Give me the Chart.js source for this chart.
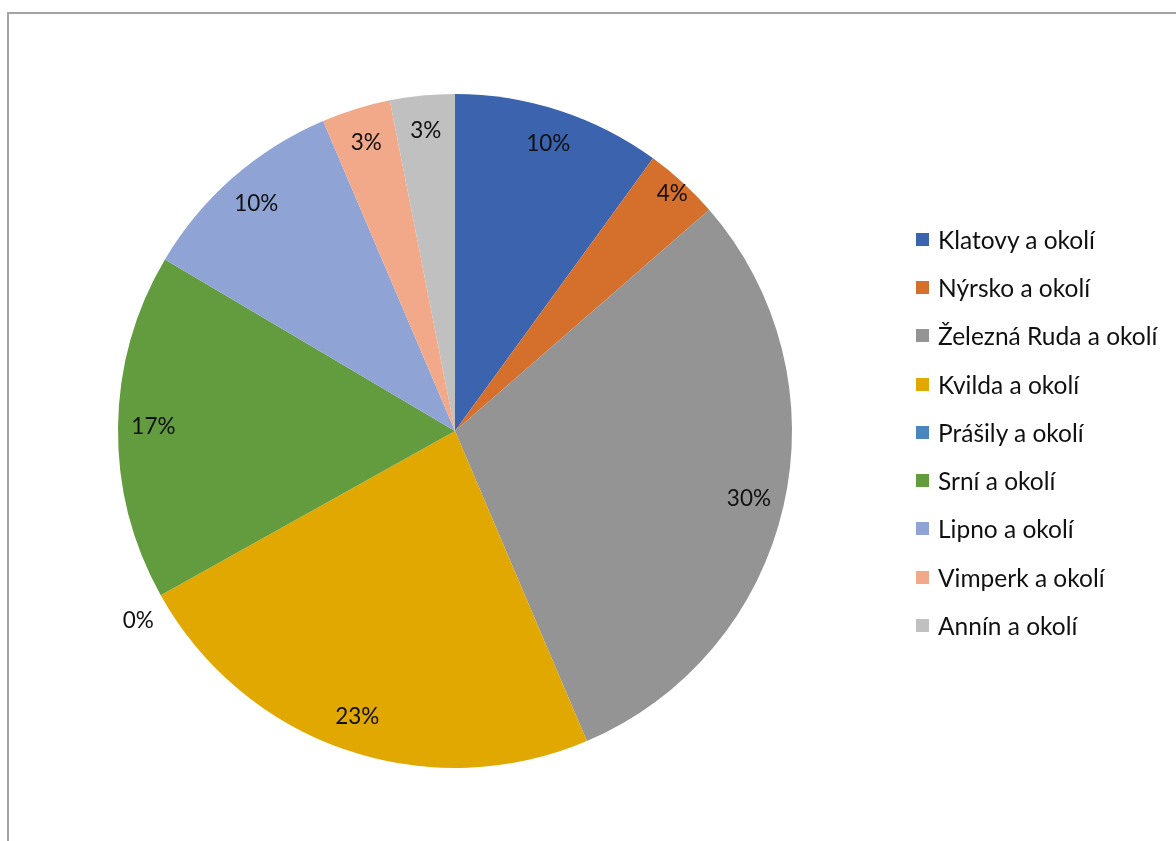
<!DOCTYPE html>
<html>
<head>
<meta charset="utf-8">
<script src="https://cdn.jsdelivr.net/npm/chart.js@4.4.1/dist/chart.umd.min.js"></script>
<style>
  html, body { margin: 0; padding: 0; background: #fff; }
  #wrap { position: relative; width: 1176px; height: 841px; overflow: hidden; }
  #frame { position: absolute; left: 7px; top: 12px; width: 1200px; height: 900px;
           border-left: 2px solid #a3a3a3; border-top: 2px solid #a3a3a3; }
  canvas { position: absolute; left: 0; top: 0; }
  #legenda { position: absolute; left: 916px; top: 215px; font-family: Lato, "Open Sans", sans-serif;
             font-size: 24.5px; color: #111; }
  #legenda div { display: flex; align-items: center; height: 48.3px; white-space: nowrap; }
  #legenda span.box { display: inline-block; width: 13px; height: 13px; margin-right: 9px; }
</style>
</head>
<body>
<div id="wrap">
  <div id="frame"></div>
  <canvas id="graf" width="1176" height="841"></canvas>
  <div id="legenda"></div>
</div>
<script>
// oblasti a podíly (v %)
const oblasti = ['Klatovy a okolí', 'Nýrsko a okolí', 'Železná Ruda a okolí', 'Kvilda a okolí',
  'Prášily a okolí', 'Srní a okolí', 'Lipno a okolí', 'Vimperk a okolí', 'Annín a okolí'];
const podily = [10, 3.6, 30, 23.3, 0, 16.6, 10.1, 3.3, 3.1];
const barvy = ['#3c63ad', '#d4702b', '#949494', '#e0a800', '#4a86be', '#629c3f', '#8fa3d5', '#f2a98a', '#c0c0c0'];

// popisky procent uvnitř výsečí
const popiskyPlugin = {
  id: 'popisky',
  afterDatasetsDraw(chart) {
    const ctx = chart.ctx;
    const meta = chart.getDatasetMeta(0);
    const data = chart.data.datasets[0].data;
    const soucet = data.reduce((a, b) => a + b, 0);
    ctx.save();
    ctx.font = '22.5px Lato, "Open Sans", sans-serif';
    ctx.fillStyle = '#111';
    ctx.textAlign = 'center';
    ctx.textBaseline = 'middle';
    meta.data.forEach((arc, i) => {
      const { x, y, startAngle, endAngle, outerRadius } = arc.getProps(['x', 'y', 'startAngle', 'endAngle', 'outerRadius'], true);
      let uhel = (startAngle + endAngle) / 2;
      let r = outerRadius * 0.895;
      if (data[i] === 0) { uhel = startAngle - 0.03; r = outerRadius * 1.095; }
      else if (data[i] / soucet < 0.04 && i === 1) r = outerRadius * 0.955;
      const text = Math.round(data[i] / soucet * 100) + '%';
      ctx.fillText(text, x + Math.cos(uhel) * r, y + Math.sin(uhel) * r);
    });
    ctx.restore();
  }
};

const ctx = document.getElementById('graf').getContext('2d');
new Chart(ctx, {
  type: 'pie',
  data: {
    labels: oblasti,
    datasets: [{ data: podily, backgroundColor: barvy, borderWidth: 0 }]
  },
  options: {
    responsive: false,
    animation: false,
    layout: { padding: { top: 94, bottom: 73, left: 0, right: 266 } },
    plugins: { legend: { display: false }, tooltip: { enabled: false } }
  },
  plugins: [popiskyPlugin]
});

// legenda vpravo
const legenda = document.getElementById('legenda');
oblasti.forEach((nazev, i) => {
  const radek = document.createElement('div');
  radek.innerHTML = `<span class="box" style="background:${barvy[i]}"></span>${nazev}`;
  legenda.appendChild(radek);
});
</script>
</body>
</html>
